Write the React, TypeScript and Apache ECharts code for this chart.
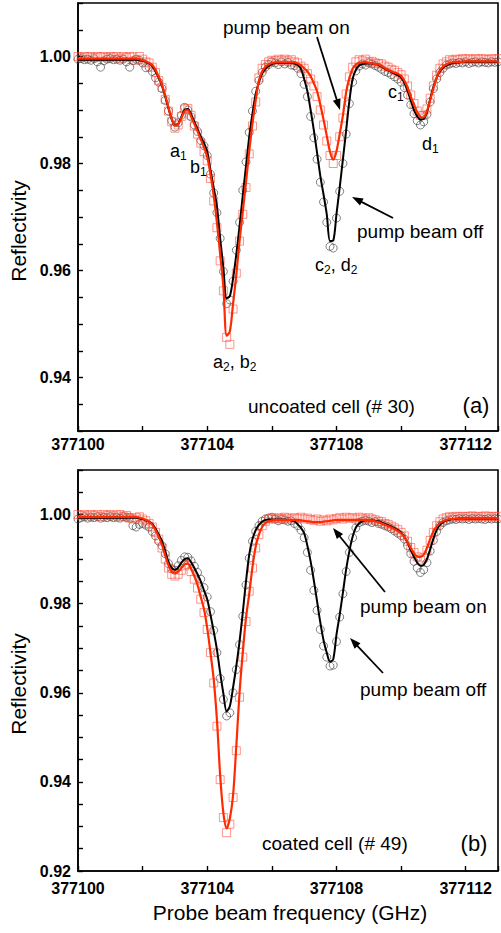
import React, { useEffect, useRef } from "react";
import * as echarts from "echarts";

// ---------------- data ----------------
const FREQ_BASE = 377100; // GHz
const FREQ_OFFSET = [
  0.0, 0.1, 0.2, 0.3, 0.4, 0.5, 0.6, 0.7, 0.8, 0.9,
  1.0, 1.1, 1.2, 1.3, 1.4, 1.5, 1.6, 1.7, 1.8, 1.9,
  2.0, 2.1, 2.2, 2.3, 2.4, 2.5, 2.6, 2.7, 2.8, 2.9,
  3.0, 3.1, 3.2, 3.3, 3.4, 3.5, 3.6, 3.7, 3.8, 3.9,
  4.0, 4.1, 4.2, 4.3, 4.4, 4.5, 4.6, 4.7, 4.8, 4.9,
  5.0, 5.1, 5.2, 5.3, 5.4, 5.5, 5.6, 5.7, 5.8, 5.9,
  6.0, 6.1, 6.2, 6.3, 6.4, 6.5, 6.6, 6.7, 6.8, 6.9,
  7.0, 7.1, 7.2, 7.3, 7.4, 7.5, 7.6, 7.7, 7.8, 7.9,
  8.0, 8.1, 8.2, 8.3, 8.4, 8.5, 8.6, 8.7, 8.8, 8.9,
  9.0, 9.1, 9.2, 9.3, 9.4, 9.5, 9.6, 9.7, 9.8, 9.9,
  10.0, 10.1, 10.2, 10.3, 10.4, 10.5, 10.6, 10.7, 10.8, 10.9,
  11.0, 11.1, 11.2, 11.3, 11.4, 11.5, 11.6, 11.7, 11.8, 11.9,
  12.0, 12.1, 12.2, 12.3, 12.4, 12.5, 12.6, 12.7, 12.8, 12.9,
  13.0,
];

const X_TICK_LABELS = [377100, 377104, 377108, 377112];
const Y_TICK_LABELS = [0.92, 0.94, 0.96, 0.98, 1.0];

// (a) uncoated cell: pump beam off (circles + black fit)
const TOP_OFF_DATA = [
  0.9995, 0.9996, 0.9994, 0.9995, 0.9993, 0.9996, 0.999, 0.998, 0.9992, 0.9995,
  0.9996, 0.9994, 0.9995, 0.9993, 0.9995, 0.999, 0.998, 0.9992, 0.9995, 0.9993,
  0.9988, 0.9979, 0.998, 0.9972, 0.996, 0.9952, 0.994, 0.9918, 0.9898, 0.988,
  0.9868, 0.9876, 0.989, 0.9905, 0.99, 0.9887, 0.9872, 0.986, 0.9843, 0.9833,
  0.9815, 0.978, 0.9745, 0.9708, 0.966, 0.9598, 0.9538, 0.9545, 0.958, 0.9638,
  0.969, 0.975, 0.9803, 0.9858, 0.9898, 0.9935, 0.9955, 0.997, 0.998, 0.9985,
  0.999, 0.9988, 0.9985, 0.999, 0.9986, 0.9989, 0.9984, 0.9983, 0.9978, 0.9968,
  0.9948, 0.9925, 0.9888, 0.9848, 0.9808, 0.9765, 0.9728, 0.969, 0.9645, 0.9642,
  0.9698, 0.9748, 0.98, 0.9855, 0.9912, 0.9952, 0.9973, 0.9982, 0.9986, 0.9984,
  0.9988, 0.9986, 0.9983, 0.998, 0.9976, 0.9972, 0.997, 0.9966, 0.9962, 0.9958,
  0.9952, 0.9942, 0.9928, 0.991, 0.9893, 0.988, 0.9872, 0.9878, 0.9892, 0.9915,
  0.994, 0.9958, 0.997, 0.9978, 0.9984, 0.9986, 0.9988, 0.9987, 0.9989, 0.9988,
  0.999, 0.9987, 0.9989, 0.999, 0.9988, 0.999, 0.9989, 0.9988, 0.999, 0.9989,
  0.999,
];
const TOP_OFF_FIT = [
  0.9994, 0.9994, 0.9994, 0.9994, 0.9994, 0.9994, 0.9994, 0.9994, 0.9994, 0.9994,
  0.9994, 0.9994, 0.9994, 0.9994, 0.9994, 0.9994, 0.9994, 0.9994, 0.9994, 0.9993,
  0.9992, 0.999, 0.9987, 0.9982, 0.9972, 0.996, 0.9945, 0.9925, 0.9903, 0.9883,
  0.9871, 0.9874, 0.9887, 0.99, 0.9902, 0.9892, 0.9878, 0.9864, 0.985, 0.9838,
  0.9822, 0.9788, 0.9755, 0.972, 0.966, 0.9605, 0.9548, 0.9552, 0.9585, 0.963,
  0.9683, 0.974, 0.9795, 0.985, 0.9893, 0.993, 0.9952, 0.9968, 0.9977, 0.9982,
  0.9986, 0.9988, 0.9988, 0.9988, 0.9988, 0.9988, 0.9988, 0.9987, 0.9984, 0.9977,
  0.9958, 0.9935, 0.99, 0.9862, 0.982, 0.9777, 0.9742, 0.9705, 0.9655, 0.9656,
  0.9705, 0.9755, 0.9808, 0.9862, 0.9917, 0.9958, 0.9975, 0.9983, 0.9986, 0.9987,
  0.9987, 0.9987, 0.9986, 0.9984, 0.9981, 0.9977, 0.9974, 0.9971, 0.9968, 0.9965,
  0.9961, 0.9951, 0.9936, 0.9918, 0.99, 0.9888, 0.9882, 0.9883, 0.9895, 0.992,
  0.9943, 0.996, 0.9972, 0.9979, 0.9983, 0.9986, 0.9988, 0.9989, 0.9989, 0.999,
  0.999, 0.999, 0.999, 0.999, 0.999, 0.999, 0.999, 0.999, 0.999, 0.999,
  0.999,
];
// (a) uncoated cell: pump beam on (squares + red fit)
const TOP_ON_DATA = [
  1.0, 0.9998, 1.0, 0.9999, 1.0, 0.9998, 1.0, 0.9999, 1.0, 0.9998,
  1.0, 0.9999, 1.0, 0.9997, 1.0, 0.9998, 1.0, 0.9999, 0.9993, 1.0,
  0.9995, 0.999, 0.9988, 0.998, 0.997, 0.9955, 0.9942, 0.992, 0.9898, 0.9878,
  0.9866, 0.9872, 0.9888, 0.9902, 0.9903, 0.989, 0.987, 0.9855, 0.9838, 0.9822,
  0.9805, 0.9772, 0.973, 0.968, 0.9618, 0.9562, 0.9475, 0.9462, 0.9528, 0.9595,
  0.9655, 0.9705, 0.9755, 0.9818, 0.987, 0.9915, 0.996, 0.9978, 0.9985, 0.999,
  0.9993, 0.9992, 0.9995, 0.9993, 0.9995, 0.9992, 0.9994, 0.999, 0.9988, 0.9982,
  0.9978, 0.9968, 0.9958, 0.9945, 0.9925, 0.99, 0.9872, 0.9842, 0.9815, 0.98,
  0.9815, 0.985, 0.9885, 0.993, 0.9962, 0.998, 0.999, 0.9994, 0.9992, 0.9995,
  0.999, 0.9991, 0.9988, 0.9987, 0.9986, 0.9982, 0.998, 0.9976, 0.9974, 0.997,
  0.9966, 0.9958, 0.9945, 0.9928, 0.9912, 0.9898, 0.989, 0.989, 0.9902, 0.9922,
  0.9945, 0.9965, 0.9978, 0.9986, 0.999, 0.9994, 0.9993, 0.9995, 0.9994, 0.9996,
  0.9995, 0.9996, 0.9994, 0.9996, 0.9995, 0.9996, 0.9995, 0.9994, 0.9996, 0.9995,
  0.9996,
];
const TOP_ON_FIT = [
  0.9996, 0.9996, 0.9996, 0.9996, 0.9996, 0.9996, 0.9996, 0.9996, 0.9996, 0.9996,
  0.9996, 0.9996, 0.9996, 0.9996, 0.9996, 0.9996, 0.9996, 0.9996, 0.9996, 0.9995,
  0.9993, 0.9991, 0.9988, 0.9984, 0.9975, 0.9962, 0.9947, 0.9927, 0.9905, 0.9884,
  0.9871, 0.9873, 0.9885, 0.9898, 0.99, 0.9888, 0.9874, 0.986, 0.9845, 0.983,
  0.9812, 0.978, 0.974, 0.969, 0.963, 0.957, 0.9478, 0.9486, 0.9538, 0.9592,
  0.9655, 0.971, 0.9765, 0.9823, 0.9875, 0.9918, 0.9955, 0.9972, 0.9981, 0.9985,
  0.9988, 0.9989, 0.9989, 0.9989, 0.9989, 0.9989, 0.9989, 0.9989, 0.9987, 0.9984,
  0.9978, 0.9972, 0.9963, 0.995, 0.9935, 0.991, 0.9882, 0.9852, 0.9822, 0.9807,
  0.9823, 0.9855, 0.989, 0.9933, 0.996, 0.9977, 0.9985, 0.9988, 0.9989, 0.9989,
  0.9988, 0.9987, 0.9986, 0.9985, 0.9982, 0.9978, 0.9975, 0.9972, 0.997, 0.9968,
  0.9964, 0.9955, 0.9942, 0.9925, 0.991, 0.9896, 0.9887, 0.9886, 0.9898, 0.9918,
  0.994, 0.996, 0.9974, 0.9981, 0.9985, 0.9988, 0.9989, 0.999, 0.999, 0.999,
  0.9991, 0.9991, 0.9991, 0.9991, 0.9991, 0.9991, 0.9991, 0.9991, 0.9991, 0.9991,
  0.9991,
];

// (b) coated cell: pump beam off
const BOT_OFF_DATA = [
  0.999, 0.9993, 0.9995, 0.9992, 0.9994, 0.9993, 0.9995, 0.9992, 0.9994, 0.9993,
  0.9995, 0.9993, 0.9994, 0.9992, 0.9995, 0.9993, 0.9994, 0.9975, 0.9972, 0.9978,
  0.998, 0.9976, 0.9972, 0.9962, 0.9952, 0.994, 0.993, 0.9912, 0.989, 0.9878,
  0.9875, 0.9885, 0.9897, 0.9905, 0.9904, 0.9896, 0.9884, 0.987, 0.9855, 0.9836,
  0.9815, 0.9782, 0.974, 0.969, 0.9632, 0.9585, 0.9548, 0.9555, 0.96, 0.9652,
  0.9708, 0.9772, 0.9842, 0.9902, 0.994, 0.9962, 0.9975, 0.9985, 0.999, 0.9992,
  0.9994, 0.999, 0.9986, 0.9989, 0.9988, 0.9985, 0.9986, 0.998, 0.9975, 0.9965,
  0.9948, 0.9915, 0.9875, 0.983, 0.9785, 0.9742, 0.9705, 0.968, 0.966, 0.9662,
  0.9715, 0.977, 0.9822, 0.9872, 0.9915, 0.9948, 0.997, 0.9982, 0.9985, 0.9987,
  0.9985, 0.9982, 0.9984, 0.998, 0.9978, 0.9975, 0.9972, 0.9968, 0.9963, 0.9958,
  0.9953, 0.9945, 0.993, 0.9912, 0.9895, 0.988, 0.987, 0.9876, 0.9892, 0.9918,
  0.9942, 0.9962, 0.9975, 0.9982, 0.9986, 0.9988, 0.999, 0.9989, 0.9991, 0.999,
  0.9991, 0.9989, 0.9991, 0.999, 0.9991, 0.999, 0.9989, 0.9991, 0.999, 0.9991,
  0.999,
];
const BOT_OFF_FIT = [
  0.9993, 0.9993, 0.9993, 0.9993, 0.9993, 0.9993, 0.9993, 0.9993, 0.9993, 0.9993,
  0.9993, 0.9993, 0.9993, 0.9993, 0.9993, 0.9993, 0.9993, 0.9993, 0.9993, 0.9991,
  0.999, 0.9987, 0.9984, 0.9979, 0.9968, 0.9955, 0.994, 0.9918, 0.9893, 0.988,
  0.9876, 0.9881, 0.9892, 0.99, 0.9902, 0.9893, 0.988, 0.9866, 0.985, 0.983,
  0.981, 0.9775, 0.9738, 0.9697, 0.9645, 0.9598, 0.9558, 0.957, 0.9612, 0.966,
  0.9715, 0.978, 0.985, 0.991, 0.9945, 0.9965, 0.9977, 0.9984, 0.9988, 0.9989,
  0.9989, 0.9989, 0.9989, 0.9989, 0.9989, 0.9988, 0.9987, 0.9985, 0.9978, 0.997,
  0.9958, 0.993, 0.9895, 0.9852, 0.9805, 0.9758, 0.9718, 0.969, 0.967, 0.9675,
  0.973, 0.9775, 0.9825, 0.9877, 0.9918, 0.995, 0.9971, 0.998, 0.9985, 0.9987,
  0.9987, 0.9987, 0.9986, 0.9985, 0.9982, 0.9979, 0.9976, 0.9973, 0.9969, 0.9965,
  0.996, 0.995, 0.9937, 0.992, 0.9905, 0.9892, 0.9885, 0.9887, 0.99, 0.9922,
  0.9946, 0.9965, 0.9977, 0.9983, 0.9987, 0.9989, 0.999, 0.999, 0.9991, 0.9991,
  0.9991, 0.9991, 0.9991, 0.9991, 0.9991, 0.9991, 0.9991, 0.9991, 0.9991, 0.9991,
  0.9991,
];
// (b) coated cell: pump beam on
const BOT_ON_DATA = [
  1.0, 0.9998, 1.0, 0.9997, 1.0, 0.9998, 1.0, 0.9996, 1.0, 0.9998,
  1.0, 0.9997, 0.9999, 1.0, 0.9996, 0.9998, 0.9992, 0.999, 0.9993, 0.9995,
  0.999, 0.9986, 0.998, 0.9972, 0.996, 0.9945, 0.9925, 0.99, 0.988, 0.9866,
  0.9862, 0.9866, 0.9875, 0.9885, 0.9888, 0.9872, 0.9855, 0.9835, 0.981, 0.978,
  0.9742, 0.969, 0.9622, 0.9525, 0.9405, 0.932, 0.9286, 0.9305, 0.9365, 0.947,
  0.959, 0.968, 0.976, 0.9828, 0.988, 0.9925, 0.9955, 0.9975, 0.9985, 0.999,
  0.9992, 0.999, 0.9993, 0.9991, 0.9994, 0.9992, 0.999, 0.9993, 0.9991, 0.9994,
  0.999, 0.9992, 0.9989, 0.9987, 0.999, 0.9985, 0.9988, 0.9986, 0.999, 0.9988,
  0.9991, 0.9993, 0.999, 0.9994, 0.9992, 0.9993, 0.999, 0.9994, 0.9992, 0.999,
  0.9993, 0.999, 0.9988, 0.9985, 0.9984, 0.998, 0.9978, 0.9974, 0.997, 0.9966,
  0.996, 0.9952, 0.994, 0.9926, 0.9915, 0.9905, 0.9898, 0.9903, 0.992, 0.9942,
  0.996, 0.9975, 0.9984, 0.999, 0.9993, 0.9995, 0.9994, 0.9996, 0.9995, 0.9996,
  0.9995, 0.9996, 0.9997, 0.9995, 0.9996, 0.9995, 0.9997, 0.9996, 0.9995, 0.9996,
  0.9996,
];
const BOT_ON_FIT = [
  0.9995, 0.9995, 0.9995, 0.9995, 0.9995, 0.9995, 0.9995, 0.9995, 0.9995, 0.9995,
  0.9995, 0.9995, 0.9995, 0.9995, 0.9995, 0.9995, 0.9995, 0.9995, 0.9995, 0.9993,
  0.9991, 0.9988, 0.9984, 0.9977, 0.9965, 0.995, 0.9932, 0.9908, 0.9886, 0.9872,
  0.9869, 0.9872, 0.988, 0.9888, 0.989, 0.9878, 0.9862, 0.9842, 0.9815, 0.9788,
  0.9745, 0.969, 0.963, 0.954, 0.9415, 0.933, 0.9296, 0.9318, 0.937, 0.948,
  0.96, 0.969, 0.9768, 0.9822, 0.9882, 0.9928, 0.9955, 0.9972, 0.9981, 0.9985,
  0.9987, 0.9988, 0.9988, 0.9988, 0.9988, 0.9988, 0.9988, 0.9988, 0.9988, 0.9987,
  0.9986, 0.9985, 0.9984, 0.9983, 0.9983, 0.9983, 0.9984, 0.9985, 0.9986, 0.9987,
  0.9988, 0.9988, 0.9988, 0.9988, 0.9988, 0.9988, 0.9988, 0.9988, 0.9988, 0.9988,
  0.9988, 0.9987, 0.9985, 0.9983, 0.998, 0.9977, 0.9974, 0.9971, 0.9967, 0.9963,
  0.9958, 0.995, 0.9938, 0.9925, 0.9913, 0.9906, 0.9905, 0.991, 0.9925, 0.9945,
  0.9962, 0.9973, 0.9981, 0.9985, 0.9988, 0.999, 0.999, 0.9991, 0.9991, 0.9991,
  0.9992, 0.9992, 0.9992, 0.9992, 0.9992, 0.9992, 0.9992, 0.9992, 0.9992, 0.9992,
  0.9992,
];

// ---------------- helpers ----------------
const FONT = '"Liberation Sans", Arial, Helvetica, sans-serif';
const RED_LINE = "#ff2a00";
const RED_MARK = "rgba(255,70,50,0.8)";
const GREY_MARK = "#3c3c3c";

const pairs = (vals: number[]) =>
  FREQ_OFFSET.map((o, i) => [FREQ_BASE + o, vals[i]]);

const isLabelled = (v: number, list: number[]) =>
  list.some((t) => Math.abs(t - v) < 1e-6);

function arrow(x1: number, y1: number, x2: number, y2: number) {
  const dx = x2 - x1;
  const dy = y2 - y1;
  const L = Math.hypot(dx, dy);
  const ux = dx / L;
  const uy = dy / L;
  const hl = 11;
  const hw = 4;
  const bx = x2 - ux * hl;
  const by = y2 - uy * hl;
  return [
    {
      type: "line",
      shape: { x1, y1, x2: bx + ux * 2, y2: by + uy * 2 },
      style: { stroke: "#000", lineWidth: 1.8 },
      z: 100,
    },
    {
      type: "polygon",
      shape: {
        points: [
          [x2, y2],
          [bx - uy * hw, by + ux * hw],
          [bx + uy * hw, by - ux * hw],
        ],
      },
      style: { fill: "#000" },
      z: 100,
    },
  ];
}

function label(text: string, x: number, y: number, size: number, extra: any = {}) {
  return {
    type: "text",
    x,
    y,
    z: 100,
    rotation: extra.rotation || 0,
    style: {
      text,
      fontSize: size,
      fontFamily: FONT,
      fontWeight: extra.fontWeight || "normal",
      fill: "#000",
      align: extra.align || "left",
      verticalAlign: "middle",
      textAlign: extra.align || "left",
      textVerticalAlign: "middle",
      rich: {
        s: {
          fontSize: 12,
          fontFamily: FONT,
          fill: "#000",
          color: "#000",
          padding: [10, 0, 0, 0],
        },
      },
    },
  };
}

function xAxis(gridIndex: number, margin: number) {
  return {
    type: "value",
    gridIndex,
    min: 377100,
    max: 377113,
    interval: 2,
    axisLine: { show: true, lineStyle: { color: "#000", width: 1.6 } },
    axisTick: { show: true, inside: true, length: 5, lineStyle: { color: "#000", width: 1.4 } },
    splitLine: { show: false },
    axisLabel: {
      color: "#000",
      fontFamily: FONT,
      fontSize: 16,
      fontWeight: "bold",
      margin,
      formatter: (v: number) => (isLabelled(v, X_TICK_LABELS) ? String(Math.round(v)) : ""),
    },
  };
}

function yAxis(gridIndex: number, min: number) {
  return {
    type: "value",
    gridIndex,
    min,
    max: 1.01,
    interval: 0.005,
    axisLine: { show: true, lineStyle: { color: "#000", width: 1.6 } },
    axisTick: { show: true, inside: true, length: 5, lineStyle: { color: "#000", width: 1.4 } },
    splitLine: { show: false },
    axisLabel: {
      color: "#000",
      fontFamily: FONT,
      fontSize: 16,
      fontWeight: "bold",
      margin: 7,
      formatter: (v: number) => (isLabelled(v, Y_TICK_LABELS) ? v.toFixed(2) : ""),
    },
  };
}

function panelSeries(idx: number, offData: number[], offFit: number[], onData: number[], onFit: number[]) {
  return [
    {
      type: "scatter",
      xAxisIndex: idx,
      yAxisIndex: idx,
      data: pairs(offData),
      symbol: "circle",
      symbolSize: 8,
      itemStyle: { color: "rgba(0,0,0,0)", borderColor: GREY_MARK, borderWidth: 0.8 },
      z: 2,
    },
    {
      type: "scatter",
      xAxisIndex: idx,
      yAxisIndex: idx,
      data: pairs(onData),
      symbol: "rect",
      symbolSize: 8,
      itemStyle: { color: "rgba(0,0,0,0)", borderColor: RED_MARK, borderWidth: 0.9 },
      z: 2,
    },
    {
      type: "line",
      xAxisIndex: idx,
      yAxisIndex: idx,
      data: pairs(offFit),
      showSymbol: false,
      smooth: 0.3,
      lineStyle: { color: "#000", width: 2 },
      z: 3,
    },
    {
      type: "line",
      xAxisIndex: idx,
      yAxisIndex: idx,
      data: pairs(onFit),
      showSymbol: false,
      smooth: 0.3,
      lineStyle: { color: RED_LINE, width: 2.2 },
      z: 4,
    },
  ];
}

export default function App() {
  const ref = useRef<HTMLDivElement>(null);

  useEffect(() => {
    if (!ref.current) return;
    const chart = echarts.init(ref.current, undefined, { renderer: "svg" });
    const graphics: any[] = [
      // axis titles
      label("Reflectivity", 18, 231, 21, { rotation: Math.PI / 2, align: "center" }),
      label("Reflectivity", 18, 684, 21, { rotation: Math.PI / 2, align: "center" }),
      label("Probe beam frequency (GHz)", 290, 912, 21, { align: "center" }),
      // panel (a)
      label("pump beam on", 223, 27, 19),
      ...arrow(317, 37, 340, 110),
      label("pump beam off", 357, 231, 19),
      ...arrow(393, 218, 352, 197),
      label("a{s|1}", 170, 151, 18),
      label("b{s|1}", 190, 167, 18),
      label("a{s|2}, b{s|2}", 213, 362, 18),
      label("c{s|2}, d{s|2}", 315, 265, 18),
      label("c{s|1}", 388, 92, 18),
      label("d{s|1}", 422, 144, 18),
      label("uncoated cell (# 30)", 248, 406, 19),
      label("(a)", 476, 405, 22, { align: "center" }),
      // panel (b)
      label("pump beam on", 360, 606, 19),
      ...arrow(385, 592, 333, 528),
      label("pump beam off", 360, 689, 19),
      ...arrow(383, 673, 350, 638),
      label("coated cell (# 49)", 262, 843, 19),
      label("(b)", 474, 843, 22, { align: "center" }),
    ];

    chart.setOption({
      animation: false,
      backgroundColor: "#fff",
      grid: [
        { left: 78, top: 3, width: 426, height: 428, show: true, borderColor: "#000", borderWidth: 1.6, backgroundColor: "transparent" },
        { left: 78, top: 470, width: 426, height: 401, show: true, borderColor: "#000", borderWidth: 1.6, backgroundColor: "transparent" },
      ],
      xAxis: [xAxis(0, 5), xAxis(1, 9)],
      yAxis: [yAxis(0, 0.93), yAxis(1, 0.92)],
      series: [
        ...panelSeries(0, TOP_OFF_DATA, TOP_OFF_FIT, TOP_ON_DATA, TOP_ON_FIT),
        ...panelSeries(1, BOT_OFF_DATA, BOT_OFF_FIT, BOT_ON_DATA, BOT_ON_FIT),
      ],
      graphic: graphics,
    });
    return () => chart.dispose();
  }, []);

  return (
    <div
      ref={ref}
      style={{ position: "fixed", left: 0, top: 0, width: 501, height: 933, background: "#fff" }}
    />
  );
}
